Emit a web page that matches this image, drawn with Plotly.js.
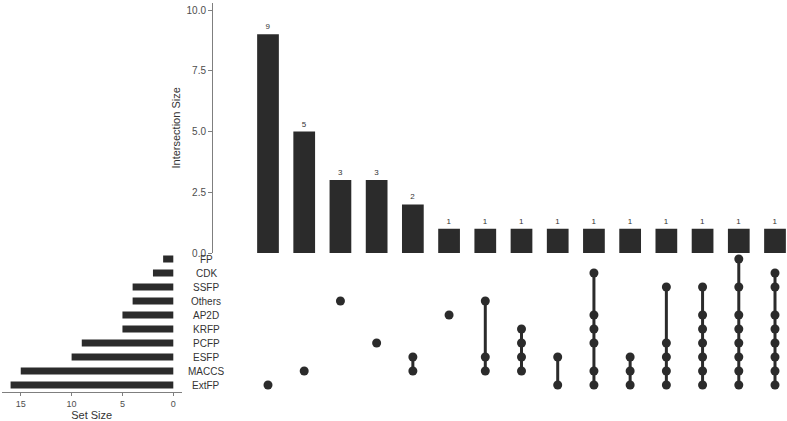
<!DOCTYPE html>
<html>
<head>
<meta charset="utf-8">
<script src="https://cdn.plot.ly/plotly-3.0.1.min.js"></script>
<style>html,body{margin:0;padding:0;background:#fff;}#chart{width:787px;height:421px;}</style>
</head>
<body>
<div id="chart"></div>
<script>
// ---- data ----
const sets = ["ExtFP", "MACCS", "ESFP", "PCFP", "KRFP", "AP2D", "Others", "SSFP", "CDK", "FP"]; // bottom to top
const setSizes = [16, 15, 10, 9, 5, 5, 4, 4, 2, 1];
const intersectionSizes = [9, 5, 3, 3, 2, 1, 1, 1, 1, 1, 1, 1, 1, 1, 1];
const intersectionMembers = [
  ["ExtFP"],
  ["MACCS"],
  ["Others"],
  ["PCFP"],
  ["ESFP", "MACCS"],
  ["AP2D"],
  ["Others", "ESFP", "MACCS"],
  ["KRFP", "PCFP", "ESFP", "MACCS"],
  ["ESFP", "ExtFP"],
  ["CDK", "AP2D", "KRFP", "PCFP", "MACCS", "ExtFP"],
  ["ESFP", "MACCS", "ExtFP"],
  ["SSFP", "PCFP", "ESFP", "MACCS", "ExtFP"],
  ["SSFP", "AP2D", "KRFP", "PCFP", "ESFP", "MACCS", "ExtFP"],
  ["FP", "SSFP", "AP2D", "KRFP", "PCFP", "ESFP", "MACCS", "ExtFP"],
  ["CDK", "SSFP", "AP2D", "KRFP", "PCFP", "ESFP", "MACCS", "ExtFP"]
];
const yTicks = [0, 2.5, 5, 7.5, 10];
const setTicks = [0, 5, 10, 15];

// ---- layout helpers ----
const W = 787, H = 421;
const dark = "#2b2b2b";
const greyAxis = "#7f7f7f";
const FONT = "Liberation Sans, Arial, sans-serif";
const colIdx = intersectionSizes.map((_, i) => i);
const pxPerCol = (775 - 268) / 14;
const xLeftPx = 213;
const xRange = [(xLeftPx - 268) / pxPerCol, (W - 268) / pxPerCol];
const pxPerUnit = (253 - 10) / 10;
const yTopMax = 10.3;
const yDomain = [(H - 253) / H, (H - (253 - yTopMax * pxPerUnit)) / H];
const rowStep = 14;
const y2Domain = [(H - (385 + 0.5 * rowStep)) / H, (H - (385 - 9.5 * rowStep)) / H];
const ssPx = 10.17, ss0 = 173.3;
const x2Range = [(ss0 - 1.7) / ssPx, (ss0 - 181.7) / ssPx];
const x2Domain = [1.7 / W, 181.7 / W];

const traces = [];
traces.push({
  type: "bar", x: colIdx, y: intersectionSizes, xaxis: "x", yaxis: "y",
  width: 0.6, marker: {color: dark},
  text: intersectionSizes.map(String), textposition: "outside",
  textfont: {size: 8, color: "#333333", family: FONT},
  outsidetextfont: {size: 8, color: "#333333", family: FONT},
  cliponaxis: false, hoverinfo: "skip"
});
traces.push({
  type: "bar", orientation: "h", x: setSizes, y: sets.map((_, i) => i),
  xaxis: "x2", yaxis: "y2", width: 0.5, marker: {color: dark}, hoverinfo: "skip"
});
intersectionMembers.forEach((mem, c) => {
  const ys = mem.map(s => sets.indexOf(s)).sort((a, b) => a - b);
  traces.push({
    type: "scatter", mode: "lines+markers", x: ys.map(() => c), y: ys,
    xaxis: "x", yaxis: "y2",
    line: {color: dark, width: 3}, marker: {color: dark, size: 9},
    hoverinfo: "skip", cliponaxis: false
  });
});

const annotations = sets.map((s, i) => ({
  xref: "paper", yref: "y2", x: 206 / W, y: i, text: s, showarrow: false,
  xanchor: "center", yanchor: "middle", font: {size: 10, color: "#333", family: FONT}
}));

const layout = {
  width: W, height: H,
  margin: {l: 0, r: 0, t: 0, b: 0},
  paper_bgcolor: "#fff", plot_bgcolor: "rgba(0,0,0,0)",
  showlegend: false,
  font: {family: FONT, color: "#333"},
  xaxis: {domain: [xLeftPx / W, 1], range: xRange, anchor: "y",
          showgrid: false, zeroline: false, showticklabels: false, ticks: "", showline: false},
  yaxis: {domain: yDomain, range: [0, yTopMax], anchor: "x",
          showgrid: false, zeroline: false, showline: true, linecolor: greyAxis, linewidth: 1,
          ticks: "outside", ticklen: 4, tickcolor: greyAxis, tickvals: yTicks,
          ticktext: yTicks.map(v => v.toFixed(1)),
          tickfont: {size: 10, color: "#4d4d4d", family: FONT},
          title: {text: "Intersection Size", font: {size: 11, color: "#333", family: FONT}, standoff: 3}},
  xaxis2: {domain: x2Domain, range: x2Range, anchor: "y2",
           showgrid: false, zeroline: false, showline: true, linecolor: greyAxis, linewidth: 1,
           ticks: "outside", ticklen: 3, tickcolor: greyAxis, tickvals: setTicks,
           tickfont: {size: 9, color: "#4d4d4d", family: FONT},
           title: {text: "Set Size", font: {size: 11, color: "#333", family: FONT}, standoff: 2}},
  yaxis2: {domain: y2Domain, range: [-0.5, 9.5], anchor: "x",
           showgrid: false, zeroline: false, showline: false, showticklabels: false, ticks: ""},
  annotations: annotations
};

Plotly.newPlot("chart", traces, layout, {displayModeBar: false, staticPlot: true});
</script>
</body>
</html>
